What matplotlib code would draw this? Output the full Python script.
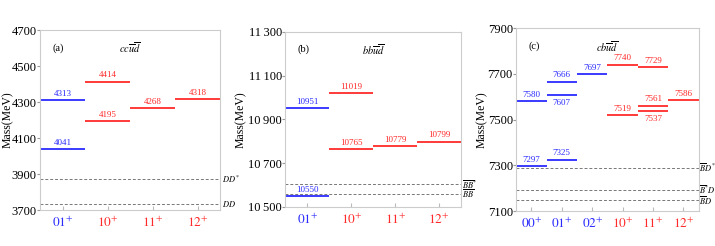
import matplotlib.pyplot as plt

plt.rcParams['font.family'] = ['Liberation Serif', 'DejaVu Serif']
plt.rcParams['mathtext.fontset'] = 'stix'

BLUE = '#2b2bff'
RED = '#ff2a2a'

# panel (a) cc ubar dbar
a_cats = ['01', '10', '11', '12']
a_cat_colors = [BLUE, RED, RED, RED]
a_idx = [0, 0, 1, 1, 2, 3]
a_mass = [4313, 4041, 4414, 4195, 4268, 4318]
a_below = [False] * 6
a_thr = [3872, 3734]
a_thr_lab = [r'$DD^{*}$', r'$DD$']

# panel (b) bb ubar dbar
b_cats = ['01', '10', '11', '12']
b_cat_colors = [BLUE, RED, RED, RED]
b_idx = [0, 0, 1, 1, 2, 3]
b_mass = [10951, 10550, 11019, 10765, 10779, 10799]
b_below = [False] * 6
b_thr = [10604, 10559]
b_thr_lab = [r'$\overline{BB}^{*}$', r'$\overline{BB}$']

# panel (c) cb ubar dbar
c_cats = ['00', '01', '02', '10', '11', '12']
c_cat_colors = [BLUE, BLUE, BLUE, RED, RED, RED]
c_idx = [0, 0, 1, 1, 1, 2, 3, 3, 4, 4, 4, 5]
c_mass = [7580, 7297, 7666, 7607, 7325, 7697, 7740, 7519, 7729, 7561, 7537, 7586]
c_below = [False, False, False, True, False, False, False, False, False, False, True, False]
c_thr = [7290, 7194, 7148]
c_thr_lab = [r'$\overline{B}D^{*}$', r'$\overline{B}^{*}D$', r'$\overline{B}D$']

fig = plt.figure(figsize=(7.15, 2.46), dpi=100)


def panel(rect, tag, quark, cats, cat_colors, idx, mass, below, thr, thr_lab,
          ylim, yticks, ytlabels, ylab_x):
    ax = fig.add_axes(rect)
    n = len(cats)
    span = ylim[1] - ylim[0]
    for i, m, b in zip(idx, mass, below):
        col = cat_colors[i]
        ax.plot([i - 0.5, i + 0.5], [m, m], color=col, lw=1.3, solid_capstyle='butt')
        if b:
            ax.text(i, m - span * 0.02, str(m), color=col, fontsize=6.5, ha='center', va='top')
        else:
            ax.text(i, m + span * 0.012, str(m), color=col, fontsize=6.5, ha='center', va='bottom')
    for t, lab in zip(thr, thr_lab):
        ax.axhline(t, color='#777777', lw=0.7, ls=(0, (3, 2)))
        ax.text(n - 0.5 + 0.03, t, lab, fontsize=6, ha='left', va='center')
    ax.text(0.07, 0.9, tag, transform=ax.transAxes, fontsize=7.5, ha='left', va='center')
    ax.text(0.5, 0.9, quark, transform=ax.transAxes, fontsize=7.5, ha='center', va='center')
    ax.set_xlim(-0.5, n - 0.5)
    ax.set_ylim(*ylim)
    ax.set_xticks(range(n))
    ax.set_xticklabels([r'$%s^{+}$' % c for c in cats], fontsize=9.5)
    for lbl, col in zip(ax.get_xticklabels(), cat_colors):
        lbl.set_color(col)
    ax.set_yticks(yticks)
    ax.set_yticklabels(ytlabels, fontsize=9)
    ax.tick_params(axis='x', direction='in', length=3, color='#bbbbbb', pad=4)
    ax.tick_params(axis='y', direction='out', length=2, color='#999999', pad=0.5)
    for s in ax.spines.values():
        s.set_color('#cccccc')
        s.set_linewidth(0.8)
    ax.set_ylabel('Mass(MeV)', fontsize=8.5, va='center')
    ax.yaxis.set_label_coords(ylab_x, 0.5)
    return ax


a_ticks = [3700, 3900, 4100, 4300, 4500, 4700]
panel([0.056, 0.146, 0.252, 0.732], '(a)', r'$cc\overline{u}\overline{d}$',
      a_cats, a_cat_colors, a_idx, a_mass, a_below, a_thr, a_thr_lab,
      (3700, 4700), a_ticks, [str(t) for t in a_ticks], -0.18)

b_ticks = [10500, 10700, 10900, 11100, 11300]
panel([0.399, 0.159, 0.246, 0.711], '(b)', r'$bb\overline{u}\overline{d}$',
      b_cats, b_cat_colors, b_idx, b_mass, b_below, b_thr, b_thr_lab,
      (10500, 11300), b_ticks, ['%d\u2009%03d' % (t // 1000, t % 1000) for t in b_ticks], -0.25)

c_ticks = [7100, 7300, 7500, 7700, 7900]
panel([0.722, 0.142, 0.255, 0.744], '(c)', r'$cb\overline{u}\overline{d}$',
      c_cats, c_cat_colors, c_idx, c_mass, c_below, c_thr, c_thr_lab,
      (7100, 7900), c_ticks, [str(t) for t in c_ticks], -0.187)

fig.savefig('out.png', dpi=100)
